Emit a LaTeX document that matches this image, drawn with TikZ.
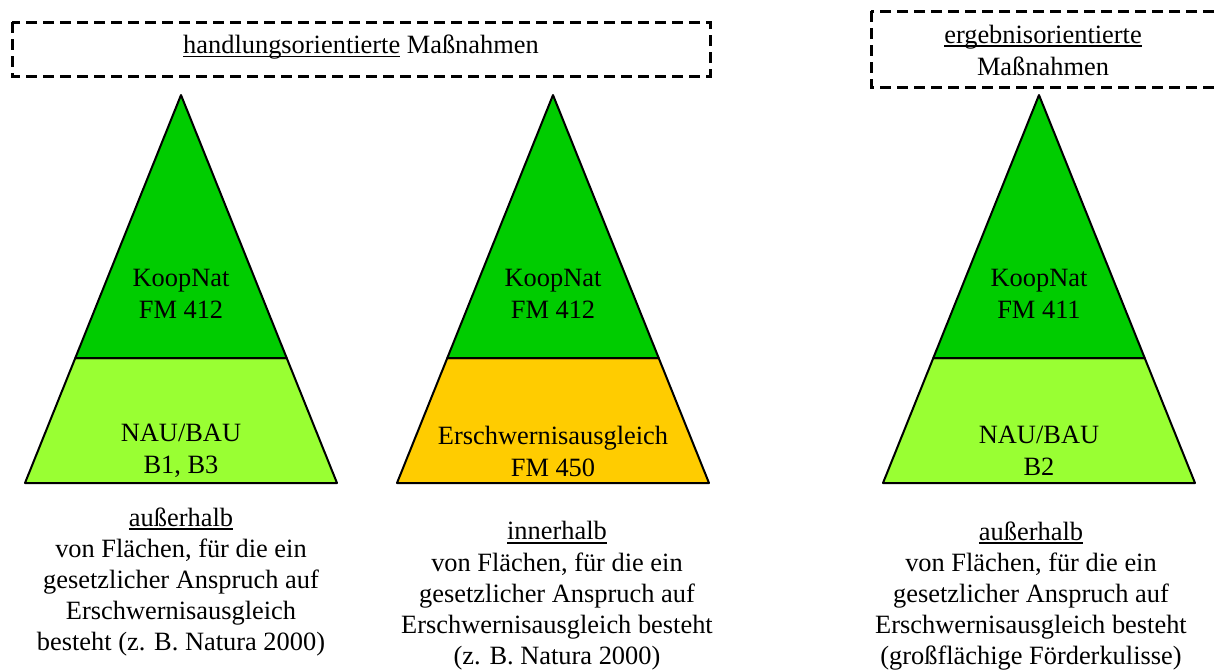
\documentclass[tikz,border=0pt]{standalone}
\usepackage{fontspec}
\setmainfont{LiberationSerif}[Extension=.ttf, UprightFont=*-Regular, BoldFont=*-Bold, ItalicFont=*-Italic, BoldItalicFont=*-BoldItalic]

\newlength\ulwd
\newcommand{\uln}[1]{\settowidth{\ulwd}{#1}\rlap{\rule[-0.14em]{\ulwd}{0.055em}}#1}

\tikzset{
  top/.style={draw, line width=1pt, line join=round},
  base/.style={draw, line width=1pt, line join=round},
  frame/.style={draw, line width=1.5pt, dash pattern=on 5.5pt off 3pt},
  label/.style={align=center, inner sep=0pt, font=\fontsize{13.2}{16}\selectfont},
  note/.style={align=center, inner sep=0pt, font=\fontsize{13.2}{15.6}\selectfont}
}
\definecolor{darkgreen}{HTML}{00CC00}
\definecolor{lightgreen}{HTML}{99FF33}
\definecolor{amber}{HTML}{FFCC00}

\begin{document}
\begin{tikzpicture}[x=0.5pt, y=-0.5pt]
      \useasboundingbox (0,0) rectangle (1217,671);
      \clip (0,0) rectangle (1217,671);
      % header boxes
      \draw[frame] (12,22) rectangle (710,76);
      \draw[frame] (871,11) rectangle (1230,87);
      \node[label] (hand) at (361,47) {\uln{handlungsorientierte} Maßnahmen};
      \node[label] (erg) at (1043,50) {\uln{ergebnisorientierte}\\Maßnahmen};

      % pyramids
      \draw[base, fill=lightgreen] (75.3,358) -- (286.7,358) -- (337,483) -- (25,483) -- cycle;
      \draw[top, fill=darkgreen] (181,95) -- (286.7,358) -- (75.3,358) -- cycle;
      \draw[base, fill=amber] (447.3,358) -- (658.7,358) -- (709,483) -- (397,483) -- cycle;
      \draw[top, fill=darkgreen] (553,95) -- (658.7,358) -- (447.3,358) -- cycle;
      \draw[base, fill=lightgreen] (933.3,358) -- (1144.7,358) -- (1195,483) -- (883,483) -- cycle;
      \draw[top, fill=darkgreen] (1039,95) -- (1144.7,358) -- (933.3,358) -- cycle;

      \begin{scope}[label]
        \node (koop1) at (181,294) {KoopNat\\FM 412};
        \node (nau1) at (181,451) {NAU/BAU\\B1, B3};
        \node (koop2) at (553,294) {KoopNat\\FM 412};
        \node (erschw) at (553,451) {Erschwernisausgleich\\FM 450};
        \node (koop3) at (1039,294) {KoopNat\\FM 411};
        \node (nau3) at (1039,451) {NAU/BAU\\B2};
      \end{scope}

      % areas
      \node[note] (out1) at (181,582) {\uln{außerhalb}\\von Flächen, für die ein\\gesetzlicher Anspruch auf\\Erschwernisausgleich\\besteht (z. B. Natura 2000)};
      \node[note] (in2) at (557,596) {\uln{innerhalb}\\von Flächen, für die ein\\gesetzlicher Anspruch auf\\Erschwernisausgleich besteht\\(z. B. Natura 2000)};
      \node[note] (out3) at (1031,596) {\uln{außerhalb}\\von Flächen, für die ein\\gesetzlicher Anspruch auf\\Erschwernisausgleich besteht\\(großflächige Förderkulisse)};
    \end{tikzpicture}
\end{document}
